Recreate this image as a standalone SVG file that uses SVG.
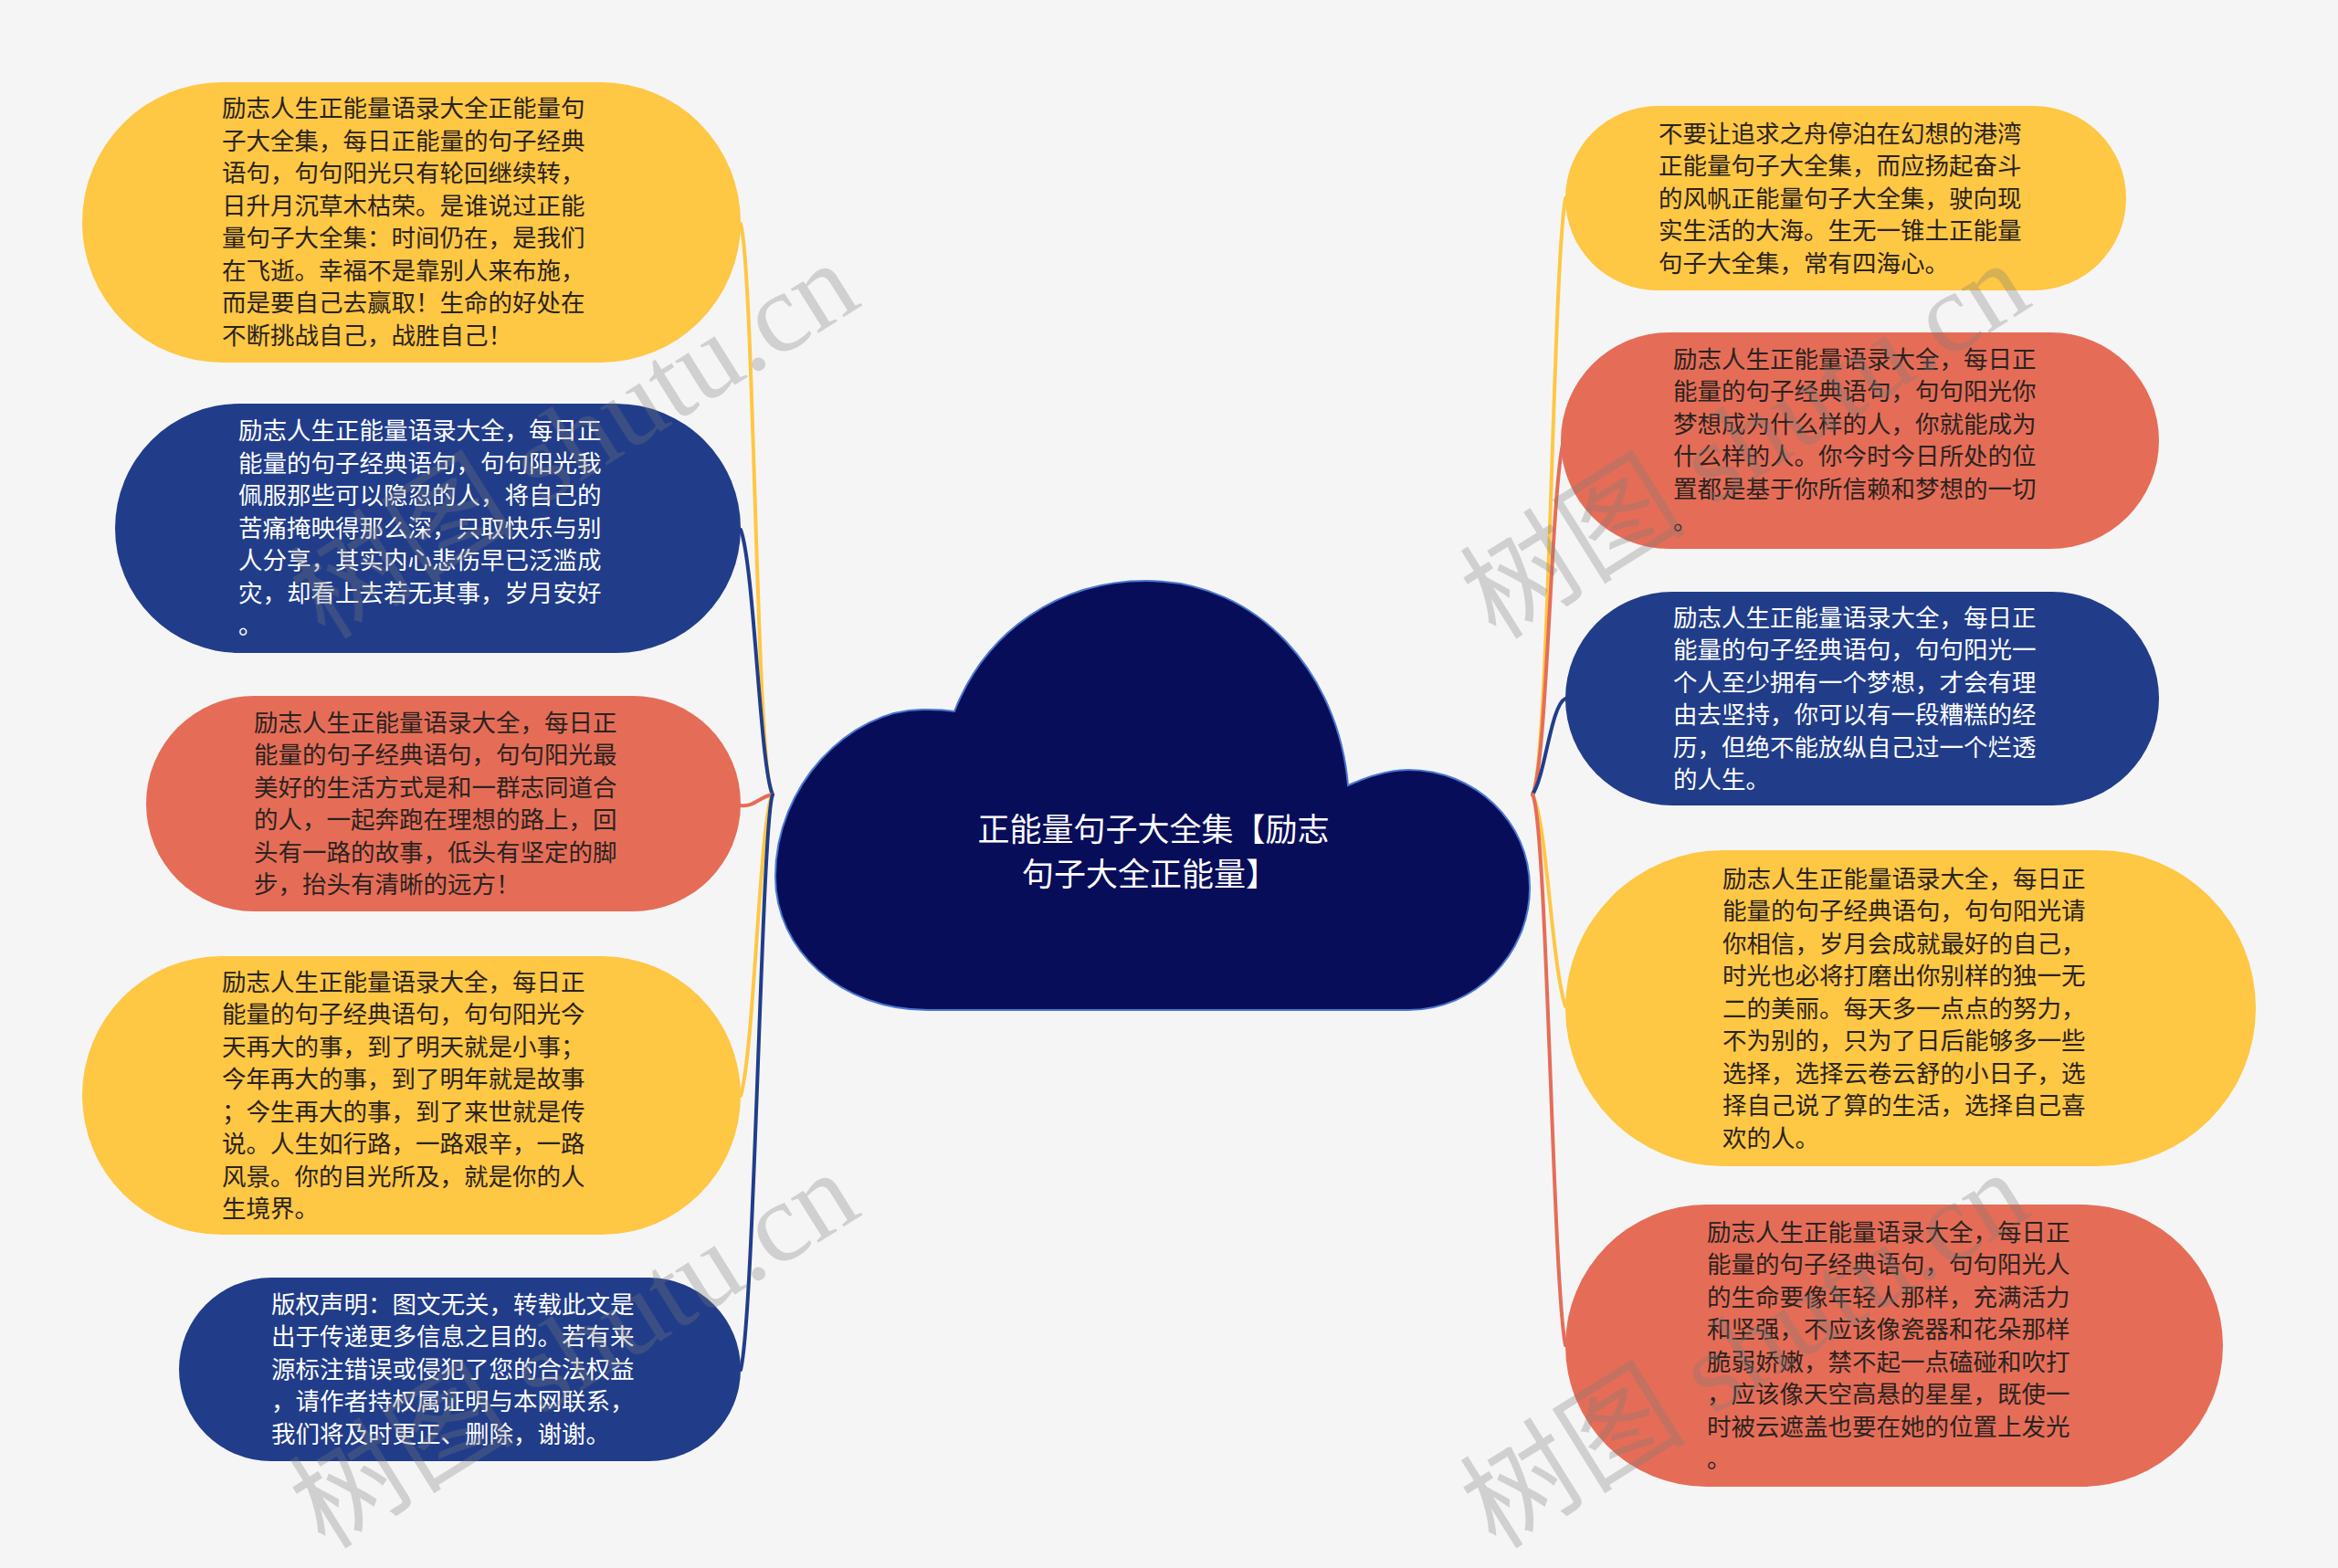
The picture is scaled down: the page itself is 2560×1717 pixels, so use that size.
<svg xmlns="http://www.w3.org/2000/svg" width="2560" height="1717" viewBox="0 0 2560 1717">
<style>
.t{font-family:"Noto Sans CJK SC","Noto Sans",sans-serif;font-size:26.5px}
.dk{fill:#2a2320}
.lt{fill:#ffffff}
.y{fill:#FEC744}
.r{fill:#E56D58}
.b{fill:#213D8A}
.c{fill:none;stroke-width:4;stroke-linecap:round}
.wm{font-family:"Liberation Serif","Noto Sans CJK SC",serif;font-size:124px;fill:#7a7a7a;fill-opacity:0.3}
</style>
<rect x="0" y="0" width="2560" height="1717" fill="#F5F5F5"/>
<g id="connectors">
<path class="c" stroke="#FEC744" d="M 846 870 C 828 850, 826 300, 811 245"/>
<path class="c" stroke="#213D8A" d="M 846 870 C 832 840, 826 620, 811 580"/>
<path class="c" stroke="#E56D58" d="M 846 870 C 832 872, 826 884, 811 882"/>
<path class="c" stroke="#FEC744" d="M 846 870 C 832 890, 826 1150, 811 1200"/>
<path class="c" stroke="#213D8A" d="M 846 870 C 834 900, 826 1440, 811 1500"/>
<path class="c" stroke="#FEC744" d="M 1678 870 C 1696 840, 1700 300, 1714 217"/>
<path class="c" stroke="#E56D58" d="M 1678 870 C 1694 840, 1698 540, 1712 482"/>
<path class="c" stroke="#213D8A" d="M 1678 870 C 1692 850, 1698 772, 1714 765"/>
<path class="c" stroke="#FEC744" d="M 1678 870 C 1694 900, 1698 1050, 1714 1102"/>
<path class="c" stroke="#E56D58" d="M 1678 870 C 1694 900, 1700 1400, 1714 1473"/>
</g>
<g id="center">
<path d="M 1016 1106 C 920 1106 849 1040 849 960 C 849 860 930 777 1010 777 C 1025 777 1038 778 1045 779 C 1080 690 1160 636 1255 636 C 1380 636 1466 740 1476 860 C 1500 849 1520 843 1542 843 C 1615 843 1675 900 1675 972 C 1675 1045 1615 1106 1542 1106 Z" fill="#080D5A" stroke="#4A78D0" stroke-width="2"/>
<text class="t lt" style="font-size:35px" text-anchor="middle"><tspan x="1263" y="921">正能量句子大全集【励志</tspan><tspan x="1259" y="970">句子大全正能量】</tspan></text>
</g>
<g id="node-l1">
<rect x="90" y="90" width="721" height="307" rx="153.5" class="y"/>
<text class="t dk"><tspan x="243" y="128">励志人生正能量语录大全正能量句</tspan><tspan x="243" y="163.5">子大全集，每日正能量的句子经典</tspan><tspan x="243" y="199">语句，句句阳光只有轮回继续转，</tspan><tspan x="243" y="234.5">日升月沉草木枯荣。是谁说过正能</tspan><tspan x="243" y="270">量句子大全集：时间仍在，是我们</tspan><tspan x="243" y="305.5">在飞逝。幸福不是靠别人来布施，</tspan><tspan x="243" y="341">而是要自己去赢取！生命的好处在</tspan><tspan x="243" y="376.5">不断挑战自己，战胜自己！</tspan></text>
</g>
<g id="node-l2">
<rect x="126" y="442" width="685" height="273" rx="136.5" class="b"/>
<text class="t lt"><tspan x="261" y="481">励志人生正能量语录大全，每日正</tspan><tspan x="261" y="516.5">能量的句子经典语句，句句阳光我</tspan><tspan x="261" y="552">佩服那些可以隐忍的人，将自己的</tspan><tspan x="261" y="587.5">苦痛掩映得那么深，只取快乐与别</tspan><tspan x="261" y="623">人分享，其实内心悲伤早已泛滥成</tspan><tspan x="261" y="658.5">灾，却看上去若无其事，岁月安好</tspan><tspan x="261" y="694">。</tspan></text>
</g>
<g id="node-l3">
<rect x="160" y="762" width="651" height="236" rx="118" class="r"/>
<text class="t dk"><tspan x="278" y="800.5">励志人生正能量语录大全，每日正</tspan><tspan x="278" y="836">能量的句子经典语句，句句阳光最</tspan><tspan x="278" y="871.5">美好的生活方式是和一群志同道合</tspan><tspan x="278" y="907">的人，一起奔跑在理想的路上，回</tspan><tspan x="278" y="942.5">头有一路的故事，低头有坚定的脚</tspan><tspan x="278" y="978">步，抬头有清晰的远方！</tspan></text>
</g>
<g id="node-l4">
<rect x="90" y="1047" width="721" height="305" rx="152.5" class="y"/>
<text class="t dk"><tspan x="243" y="1084.5">励志人生正能量语录大全，每日正</tspan><tspan x="243" y="1120">能量的句子经典语句，句句阳光今</tspan><tspan x="243" y="1155.5">天再大的事，到了明天就是小事；</tspan><tspan x="243" y="1191">今年再大的事，到了明年就是故事</tspan><tspan x="243" y="1226.5">；今生再大的事，到了来世就是传</tspan><tspan x="243" y="1262">说。人生如行路，一路艰辛，一路</tspan><tspan x="243" y="1297.5">风景。你的目光所及，就是你的人</tspan><tspan x="243" y="1333">生境界。</tspan></text>
</g>
<g id="node-l5">
<rect x="196" y="1399" width="615" height="201" rx="100.5" class="b"/>
<text class="t lt"><tspan x="297" y="1437.5">版权声明：图文无关，转载此文是</tspan><tspan x="297" y="1473">出于传递更多信息之目的。若有来</tspan><tspan x="297" y="1508.5">源标注错误或侵犯了您的合法权益</tspan><tspan x="297" y="1544">，请作者持权属证明与本网联系，</tspan><tspan x="297" y="1579.5">我们将及时更正、删除，谢谢。</tspan></text>
</g>
<g id="node-r1">
<rect x="1714" y="116" width="614" height="202" rx="101" class="y"/>
<text class="t dk"><tspan x="1816" y="155.5">不要让追求之舟停泊在幻想的港湾</tspan><tspan x="1816" y="191">正能量句子大全集，而应扬起奋斗</tspan><tspan x="1816" y="226.5">的风帆正能量句子大全集，驶向现</tspan><tspan x="1816" y="262">实生活的大海。生无一锥土正能量</tspan><tspan x="1816" y="297.5">句子大全集，常有四海心。</tspan></text>
</g>
<g id="node-r2">
<rect x="1709" y="364" width="655" height="237" rx="118.5" class="r"/>
<text class="t dk"><tspan x="1832" y="402.5">励志人生正能量语录大全，每日正</tspan><tspan x="1832" y="438">能量的句子经典语句，句句阳光你</tspan><tspan x="1832" y="473.5">梦想成为什么样的人，你就能成为</tspan><tspan x="1832" y="509">什么样的人。你今时今日所处的位</tspan><tspan x="1832" y="544.5">置都是基于你所信赖和梦想的一切</tspan><tspan x="1832" y="580">。</tspan></text>
</g>
<g id="node-r3">
<rect x="1714" y="648" width="650" height="234" rx="117" class="b"/>
<text class="t lt"><tspan x="1832" y="685.5">励志人生正能量语录大全，每日正</tspan><tspan x="1832" y="721">能量的句子经典语句，句句阳光一</tspan><tspan x="1832" y="756.5">个人至少拥有一个梦想，才会有理</tspan><tspan x="1832" y="792">由去坚持，你可以有一段糟糕的经</tspan><tspan x="1832" y="827.5">历，但绝不能放纵自己过一个烂透</tspan><tspan x="1832" y="863">的人生。</tspan></text>
</g>
<g id="node-r4">
<rect x="1714" y="931" width="756" height="346" rx="173" class="y"/>
<text class="t dk"><tspan x="1886" y="971.5">励志人生正能量语录大全，每日正</tspan><tspan x="1886" y="1007">能量的句子经典语句，句句阳光请</tspan><tspan x="1886" y="1042.5">你相信，岁月会成就最好的自己，</tspan><tspan x="1886" y="1078">时光也必将打磨出你别样的独一无</tspan><tspan x="1886" y="1113.5">二的美丽。每天多一点点的努力，</tspan><tspan x="1886" y="1149">不为别的，只为了日后能够多一些</tspan><tspan x="1886" y="1184.5">选择，选择云卷云舒的小日子，选</tspan><tspan x="1886" y="1220">择自己说了算的生活，选择自己喜</tspan><tspan x="1886" y="1255.5">欢的人。</tspan></text>
</g>
<g id="node-r5">
<rect x="1714" y="1319" width="720" height="309" rx="154.5" class="r"/>
<text class="t dk"><tspan x="1869" y="1358.5">励志人生正能量语录大全，每日正</tspan><tspan x="1869" y="1394">能量的句子经典语句，句句阳光人</tspan><tspan x="1869" y="1429.5">的生命要像年轻人那样，充满活力</tspan><tspan x="1869" y="1465">和坚强，不应该像瓷器和花朵那样</tspan><tspan x="1869" y="1500.5">脆弱娇嫩，禁不起一点磕碰和吹打</tspan><tspan x="1869" y="1536">，应该像天空高悬的星星，既使一</tspan><tspan x="1869" y="1571.5">时被云遮盖也要在她的位置上发光</tspan><tspan x="1869" y="1607">。</tspan></text>
</g>
<g id="watermarks">
<text class="wm" x="356" y="702" transform="rotate(-32 356 702)">树图 shutu.cn</text>
<text class="wm" x="356" y="1698" transform="rotate(-32 356 1698)">树图 shutu.cn</text>
<text class="wm" x="1638" y="702" transform="rotate(-32 1638 702)">树图 shutu.cn</text>
<text class="wm" x="1638" y="1698" transform="rotate(-32 1638 1698)">树图 shutu.cn</text>
</g>
</svg>
